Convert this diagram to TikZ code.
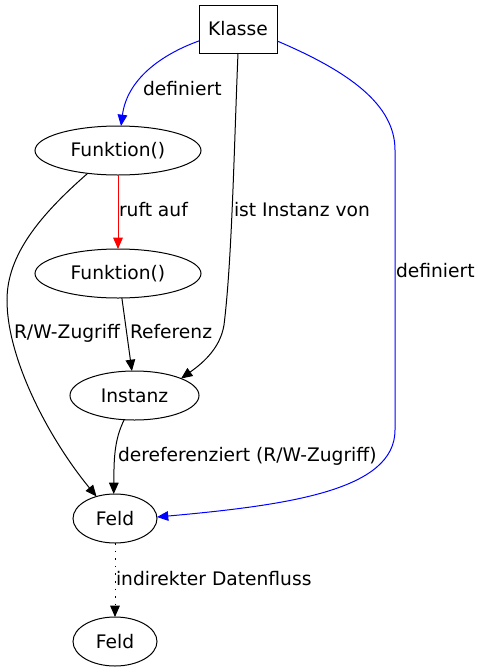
\documentclass[tikz,border=0pt]{standalone}
\usepackage{fontspec}
\setmainfont{DejaVu Sans}
\usetikzlibrary{arrows.meta,shapes.geometric}
\definecolor{gvblue}{RGB}{0,0,255}
\definecolor{gvred}{RGB}{255,0,0}

\begin{document}
\begin{tikzpicture}[x=0.75pt,y=-0.75pt,
  every node/.style={font=\fontsize{14}{16}\selectfont,inner sep=0pt,outer sep=0pt},
  knoten/.style={draw,ellipse,line width=0.75pt,minimum height=36.75pt},
  kante/.style={line width=0.75pt,-{Triangle[length=8.5pt,width=7.2pt]}},
  beschr/.style={anchor=base west}]
  \useasboundingbox (0,0) rectangle (478,672);

  %% Knoten
  \node[draw,rectangle,line width=0.75pt,minimum width=58.5pt,minimum height=36pt] (klasse) at (238,29) {Klasse};
  \node[knoten,minimum width=124.5pt] (funk1) at (118,150.5) {Funktion()};
  \node[knoten,minimum width=124.5pt] (funk2) at (118,273.5) {Funktion()};
  \node[knoten,minimum width=96.75pt] (instanz) at (134.5,395.5) {Instanz};
  \node[knoten,minimum width=63pt] (feld1) at (115,518.5) {Feld};
  \node[knoten,minimum width=63pt] (feld2) at (115,641.5) {Feld};

  %% Kanten
  \draw[kante,gvblue] (klasse.197) .. controls (160,55) and (127,80) .. (funk1.83);
  \draw[kante,gvred] (funk1.south) -- (funk2.north);
  \draw[kante] (klasse.south) .. controls (234,150) and (232,260) .. (224,325)
    .. controls (220,350) and (200,365) .. (instanz.20);
  \draw[kante,gvblue] (klasse.343) .. controls (350,72) and (395,105) .. (395,150)
    -- (395,430) .. controls (395,490) and (290,505) .. (feld1.2);
  \draw[kante] (funk1.217) .. controls (40,215) and (7,255) .. (7,300)
    .. controls (7,360) and (50,440) .. (feld1.130);
  \draw[kante] (funk2.279) -- (instanz.96);
  \draw[kante] (instanz.247) .. controls (114,440) and (114,460) .. (feld1.93);
  \draw[kante,dash pattern=on 1.2pt off 4.5pt] (feld1.south) -- (feld2.north);

  %% Beschriftungen
  \node[beschr] (l-def1) at (143,95) {definiert};
  \node[beschr] (l-ruft) at (119,216.7) {ruft auf};
  \node[beschr] (l-inst) at (234,216.7) {ist Instanz von};
  \node[beschr] (l-def2) at (396,277) {definiert};
  \node[beschr] (l-rw) at (14,338) {R/W-Zugriff};
  \node[beschr] (l-ref) at (130,338) {Referenz};
  \node[beschr] (l-deref) at (118,461.7) {dereferenziert (R/W-Zugriff)};
  \node[beschr] (l-daten) at (116,585) {indirekter Datenfluss};
\end{tikzpicture}
\end{document}
